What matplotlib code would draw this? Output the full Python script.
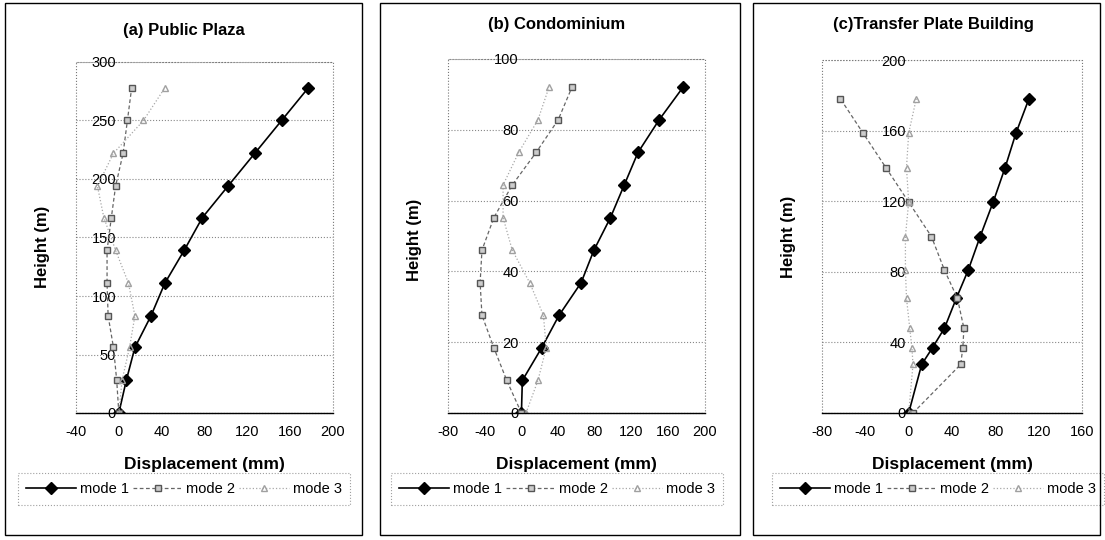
import matplotlib
matplotlib.use('Agg')
import matplotlib.pyplot as plt
from matplotlib.patches import Rectangle

plt.rcParams['font.family'] = ['Liberation Sans', 'DejaVu Sans']
plt.rcParams['axes.unicode_minus'] = False

# panel (a) Public Plaza
heights_a = [0, 28, 56, 83, 111, 139, 167, 194, 222, 250, 278]
a_mode1 = [0, 7, 15, 30, 43, 61, 78, 102, 127, 152, 177]
a_mode2 = [0, -2, -5, -10, -11, -11, -7, -3, 4, 8, 12]
a_mode3 = [0, 3, 10, 15, 9, -3, -14, -20, -5, 23, 43]

# panel (b) Condominium
heights_b = [0, 9.2, 18.4, 27.6, 36.8, 46, 55.2, 64.4, 73.6, 82.8, 92]
b_mode1 = [0, 1, 22, 41, 65, 79, 97, 112, 127, 150, 176]
b_mode2 = [0, -16, -30, -43, -45, -43, -30, -10, 16, 40, 55]
b_mode3 = [5, 18, 27, 24, 9, -10, -20, -20, -3, 18, 30]

# panel (c) Transfer Plate Building
heights_c = [0, 27.5, 37, 48, 65, 81, 100, 119.5, 139, 158.5, 178]
c_mode1 = [0, 12, 22, 33, 44, 55, 66, 78, 89, 99, 111]
c_mode2 = [4, 48, 50, 51, 45, 33, 21, 0, -21, -42, -63]
c_mode3 = [0, 4, 3, 1, -2, -3, -3, 0, -2, 0, 7]

titles = ['(a) Public Plaza', '(b) Condominium', '(c)Transfer Plate Building']
mode_names = ['mode 1', 'mode 2', 'mode 3']

W, H = 1105, 540
fig = plt.figure(figsize=(W / 100, H / 100), dpi=100)

def fx(px):
    return px / W

def fy(py):
    return 1 - py / H

panels = [
    dict(h=heights_a, m=[a_mode1, a_mode2, a_mode3], xlim=(-40, 200), xstep=40,
         ylim=(0, 300), ystep=50, plot=(76, 62, 333, 413), box=(5, 3, 362, 535),
         tx=184, ty=30, lx=42, ly=247, legx=184),
    dict(h=heights_b, m=[b_mode1, b_mode2, b_mode3], xlim=(-80, 200), xstep=40,
         ylim=(0, 100), ystep=20, plot=(448, 59, 705, 413), box=(380, 3, 740, 535),
         tx=557, ty=25, lx=415, ly=240, legx=557),
    dict(h=heights_c, m=[c_mode1, c_mode2, c_mode3], xlim=(-80, 160), xstep=40,
         ylim=(0, 200), ystep=40, plot=(822, 60, 1082, 413), box=(753, 3, 1100, 535),
         tx=933, ty=25, lx=788, ly=237, legx=938),
]

styles = [
    dict(color='black', lw=1.2, ls='-', marker='D', ms=6, mfc='black', mec='black'),
    dict(color='#666666', lw=0.9, ls=(0, (3, 2)), marker='s', ms=5, mfc='#cccccc', mec='#555555'),
    dict(color='#a8a8a8', lw=0.9, ls=':', marker='^', ms=5, mfc='none', mec='#a0a0a0'),
]

for i, p in enumerate(panels):
    x0, y0, x1, y1 = p['plot']
    ax = fig.add_axes([fx(x0), fy(y1), fx(x1 - x0), (y1 - y0) / H])
    lines = []
    for vals, st, name in zip(p['m'], styles, mode_names):
        ln, = ax.plot(vals, p['h'], label=name, **st)
        lines.append(ln)
    ax.set_xlim(*p['xlim'])
    ax.set_ylim(*p['ylim'])
    ax.set_xticks(range(p['xlim'][0], p['xlim'][1] + 1, p['xstep']))
    ax.set_yticks(range(p['ylim'][0], p['ylim'][1] + 1, p['ystep']))
    ax.grid(axis='y', color='#888888', ls=':', lw=0.8)
    ax.set_axisbelow(True)
    for s in ['top', 'right']:
        ax.spines[s].set_visible(False)
    ax.spines['left'].set_position(('data', 0))
    ax.spines['left'].set_color('none')
    ax.spines['bottom'].set_color('black')
    ax.spines['bottom'].set_linewidth(1.0)
    ax.add_patch(Rectangle((0, 0), 1, 1, transform=ax.transAxes, fill=False,
                           ls=':', lw=0.8, ec='#777777', clip_on=False))
    ax.tick_params(axis='y', length=0, pad=2, labelsize=10.5)
    ax.tick_params(axis='x', length=0, pad=9, labelsize=10.5)
    fig.text(fx(p['tx']), fy(p['ty']), titles[i], ha='center', va='center',
             fontsize=12, fontweight='bold')
    fig.text(fx(p['lx']), fy(p['ly']), 'Height (m)', ha='center', va='center',
             rotation=90, fontsize=12, fontweight='bold')
    fig.text(fx((x0 + x1) / 2), fy(465), 'Displacement (mm)', ha='center', va='center',
             fontsize=12.5, fontweight='bold')
    leg = ax.legend(handles=lines, loc='center', ncol=3, bbox_to_anchor=(fx(p['legx']), fy(489)),
                    bbox_transform=fig.transFigure, fontsize=10.5, frameon=True, fancybox=False,
                    handlelength=3.4, columnspacing=0.3, handletextpad=0.25, borderpad=0.6)
    leg.get_frame().set_linestyle(':')
    leg.get_frame().set_edgecolor('#888888')
    leg.get_frame().set_linewidth(0.8)

    bx0, by0, bx1, by1 = p['box']
    fig.patches.append(Rectangle((fx(bx0), fy(by1)), fx(bx1 - bx0), (by1 - by0) / H,
                                 transform=fig.transFigure, fill=False, ec='black', lw=1.0))

fig.savefig('out.png', dpi=100)
